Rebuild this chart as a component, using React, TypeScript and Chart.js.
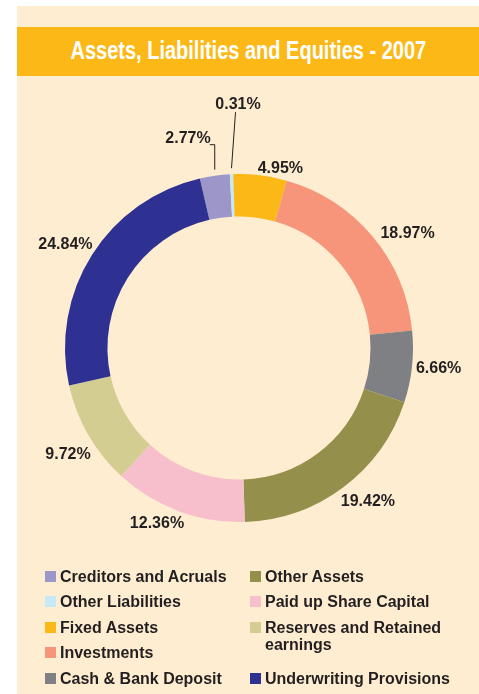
import React, { useEffect, useRef } from "react";
import { Chart, registerables } from "chart.js";

Chart.register(...registerables);

const TITLE = "Assets, Liabilities and Equities - 2007";
const categories = [
  "Creditors and Acruals",
  "Other Liabilities",
  "Fixed Assets",
  "Investments",
  "Cash & Bank Deposit",
  "Other Assets",
  "Paid up Share Capital",
  "Reserves and Retained earnings",
  "Underwriting Provisions",
];
const values = [2.77, 0.31, 4.95, 18.97, 6.66, 19.42, 12.36, 9.72, 24.84];
const valueLabels = ["2.77%", "0.31%", "4.95%", "18.97%", "6.66%", "19.42%", "12.36%", "9.72%", "24.84%"];
const colors = [
  "#9d97c9",
  "#c6e9f8",
  "#fcb817",
  "#f6957a",
  "#7f8083",
  "#958f4c",
  "#f7bfcb",
  "#d4cd92",
  "#2e3192",
];

const CREAM = "#feedd0";
const TEXT = "#231f20";
const FONT = "'Liberation Sans', Arial, Helvetica, sans-serif";

// leader-line styles for the tiny slices (index -> shape)
const leaders: Record<number, { dx: number; dy: number; hook: number }> = {
  0: { dx: 0, dy: -25, hook: -5 },
  1: { dx: 4, dy: -56, hook: 0 },
};
// small hand-placement nudges of the outside labels (px)
const labelNudge: [number, number][] = [
  [0, 0], [0, 0], [-3, 3], [5, 6], [0, 0], [-5, 3], [7, 1], [6, 10], [4, -2],
];

const labelPlugin = {
  id: "sliceLabels",
  afterDraw(chart: any) {
    const ctx = chart.ctx;
    const meta = chart.getDatasetMeta(0);
    ctx.save();
    ctx.font = `bold 16px ${FONT}`;
    ctx.fillStyle = TEXT;
    ctx.strokeStyle = TEXT;
    ctx.lineWidth = 1;
    meta.data.forEach((arc: any, i: number) => {
      const { x, y, startAngle, endAngle, outerRadius } = arc.getProps(
        ["x", "y", "startAngle", "endAngle", "outerRadius"],
        true
      );
      const mid = (startAngle + endAngle) / 2;
      const c = Math.cos(mid);
      const s = Math.sin(mid);
      const text = valueLabels[i];
      const L = leaders[i];
      if (L) {
        const px = x + c * outerRadius;
        const py = y + s * outerRadius - 6;
        const ex = px + L.dx;
        const ey = py + L.dy;
        ctx.beginPath();
        ctx.moveTo(px, py);
        ctx.lineTo(ex, ey);
        if (L.hook) ctx.lineTo(ex + L.hook, ey);
        ctx.stroke();
        ctx.textBaseline = "alphabetic";
        if (L.hook) {
          ctx.textAlign = L.hook < 0 ? "right" : "left";
          ctx.fillText(text, ex + L.hook + (L.hook < 0 ? 1 : -1), ey - 1.5);
        } else {
          ctx.textAlign = "center";
          ctx.fillText(text, ex + 2.5, ey - 3);
        }
        return;
      }
      const r = outerRadius + 4;
      const [nx, ny] = labelNudge[i];
      const px = x + c * r + nx;
      const py = y + s * r + ny;
      ctx.textAlign = c > 0.1 ? "left" : c < -0.1 ? "right" : "center";
      ctx.textBaseline = s < -0.3 ? "bottom" : s > 0.3 ? "top" : "middle";
      ctx.fillText(text, px, py + (ctx.textBaseline === "top" ? 0 : ctx.textBaseline === "bottom" ? 2 : 1));
    });
    ctx.restore();
  },
};

export default function App() {
  const ref = useRef<HTMLCanvasElement>(null);
  useEffect(() => {
    document.body.style.margin = "0";
    if (!ref.current) return;
    const chart = new Chart(ref.current, {
      type: "doughnut",
      data: {
        labels: categories,
        datasets: [
          {
            data: values,
            backgroundColor: colors,
            borderWidth: 0,
          },
        ],
      },
      options: {
        animation: false,
        responsive: false,
        rotation: -13,
        cutout: "75.6%",
        layout: { padding: { left: 65, right: 66, top: 174, bottom: 172 } },
        plugins: {
          legend: { display: false },
          tooltip: { enabled: false },
          title: { display: false },
        },
      },
      plugins: [labelPlugin],
    });
    return () => chart.destroy();
  }, []);

  const legendOrder = [
    { i: 0, col: 1, row: 1, span: 1 },
    { i: 1, col: 1, row: 2, span: 1 },
    { i: 2, col: 1, row: 3, span: 1 },
    { i: 3, col: 1, row: 4, span: 1 },
    { i: 4, col: 1, row: 5, span: 1 },
    { i: 5, col: 2, row: 1, span: 1 },
    { i: 6, col: 2, row: 2, span: 1 },
    { i: 7, col: 2, row: 3, span: 2 },
    { i: 8, col: 2, row: 5, span: 1 },
  ];

  return (
    <div style={{ position: "relative", width: 479, height: 694, background: "#ffffff", overflow: "hidden" }}>
      <div style={{ position: "absolute", left: 17, top: 6, width: 462, height: 688, background: CREAM }} />
      <div
        style={{
          position: "absolute",
          left: 17,
          top: 27,
          width: 462,
          height: 49,
          background: "#fcb817",
          display: "flex",
          alignItems: "center",
          justifyContent: "center",
        }}
      >
        <span
          style={{
            display: "inline-block",
            color: "#ffffff",
            fontFamily: FONT,
            fontWeight: "bold",
            fontSize: 25,
            lineHeight: "49px",
            whiteSpace: "nowrap",
            transform: "scaleX(0.8)",
            transformOrigin: "center",
            marginTop: -2,
          }}
        >
          {TITLE}
        </span>
      </div>
      <canvas ref={ref} width={479} height={694} style={{ position: "absolute", left: 0, top: 0 }} />
      <div
        style={{
          position: "absolute",
          left: 45,
          top: 564,
          display: "grid",
          gridTemplateColumns: "205px 220px",
          gridTemplateRows: "repeat(5, 25.4px)",
          fontFamily: FONT,
          fontWeight: "bold",
          fontSize: 16,
          color: TEXT,
        }}
      >
        {legendOrder.map(({ i, col, row, span }) => (
          <div
            key={i}
            style={{
              gridColumn: col,
              gridRow: `${row} / span ${span}`,
              display: "flex",
              alignItems: "flex-start",
              lineHeight: "17.7px",
              paddingTop: 4,
            }}
          >
            <span
              style={{
                display: "inline-block",
                width: 11,
                height: 11,
                background: colors[i],
                marginTop: 3,
                marginRight: 4,
                flex: "none",
              }}
            />
            <span style={{ whiteSpace: "nowrap" }}>
              {i === 7 ? (
                <>
                  Reserves and Retained
                  <br />
                  earnings
                </>
              ) : (
                categories[i]
              )}
            </span>
          </div>
        ))}
      </div>
    </div>
  );
}
